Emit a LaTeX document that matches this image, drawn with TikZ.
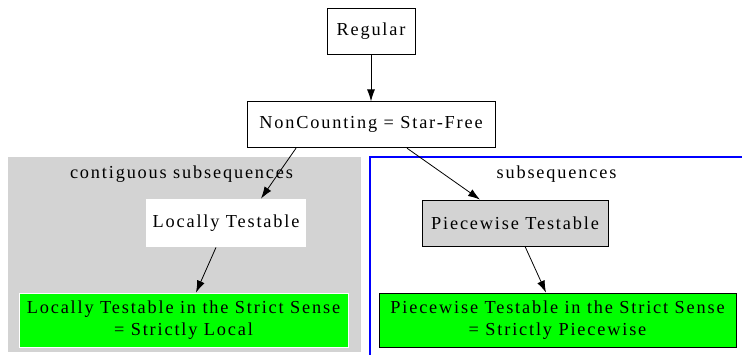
\documentclass[tikz,border=0pt]{standalone}
\usepackage{fontspec}
\setmainfont{Liberation Serif}[LetterSpace=10]
\usepackage{xcolor}
\usetikzlibrary{arrows.meta, positioning, backgrounds}
\definecolor{clustergray}{HTML}{D3D3D3}
\definecolor{leafgreen}{HTML}{00FF00}
\definecolor{clusterblue}{RGB}{0,0,255}

\begin{document}
\begin{tikzpicture}[x=1pt, y=1pt, box/.style={rectangle, draw, line width=0.8pt, minimum height=46pt, inner sep=0pt, align=center, font=\fontsize{18.3}{22}\selectfont}, tag/.style={font=\fontsize{18.3}{22}\selectfont}, arrow/.style={-{Latex[length=12pt, width=8pt]}, line width=0.8pt}]
\useasboundingbox (0,0) rectangle (742,355);
\fill[clustergray] (8,3) rectangle (361,198);
\draw[color=clusterblue, line width=1.5pt] (369.75,0) -- (369.75,197.75) -- (742,197.75);
\node[box, minimum width=88pt] (reg) at (371,324) {Regular};
\node[box, minimum width=248pt, below=47pt of reg] (nc) {NonCounting = Star-Free};
\node[box, draw=none, fill=white, minimum width=160pt, minimum height=48pt] (lt) at (226,132) {Locally Testable};
\node[box, fill=clustergray, minimum width=186pt] (pt) at (515,132) {Piecewise Testable};
\node[box, draw=white, fill=leafgreen, minimum width=329pt, minimum height=54pt] (ltss) at (183.5,35) {Locally Testable in the Strict Sense\\= Strictly Local};
\node[box, fill=leafgreen, minimum width=357pt, minimum height=54pt] (ptss) at (557.5,35) {Piecewise Testable in the Strict Sense\\= Strictly Piecewise};
\node[tag] (contig) at (181.5,181) {contiguous subsequences};
\node[tag] (subseq) at (556.5,181) {subsequences};
\draw[arrow] (reg) -- (nc);
\draw[arrow] ([xshift=-75pt]nc.south) -- ([xshift=35pt]lt.north);
\draw[arrow] ([xshift=36pt]nc.south) -- ([xshift=-35pt]pt.north);
\draw[arrow] ([xshift=-10pt]lt.south) -- ([xshift=12.5pt]ltss.north);
\draw[arrow] ([xshift=10pt]pt.south) -- ([xshift=-11.5pt]ptss.north);
\end{tikzpicture}
\end{document}
